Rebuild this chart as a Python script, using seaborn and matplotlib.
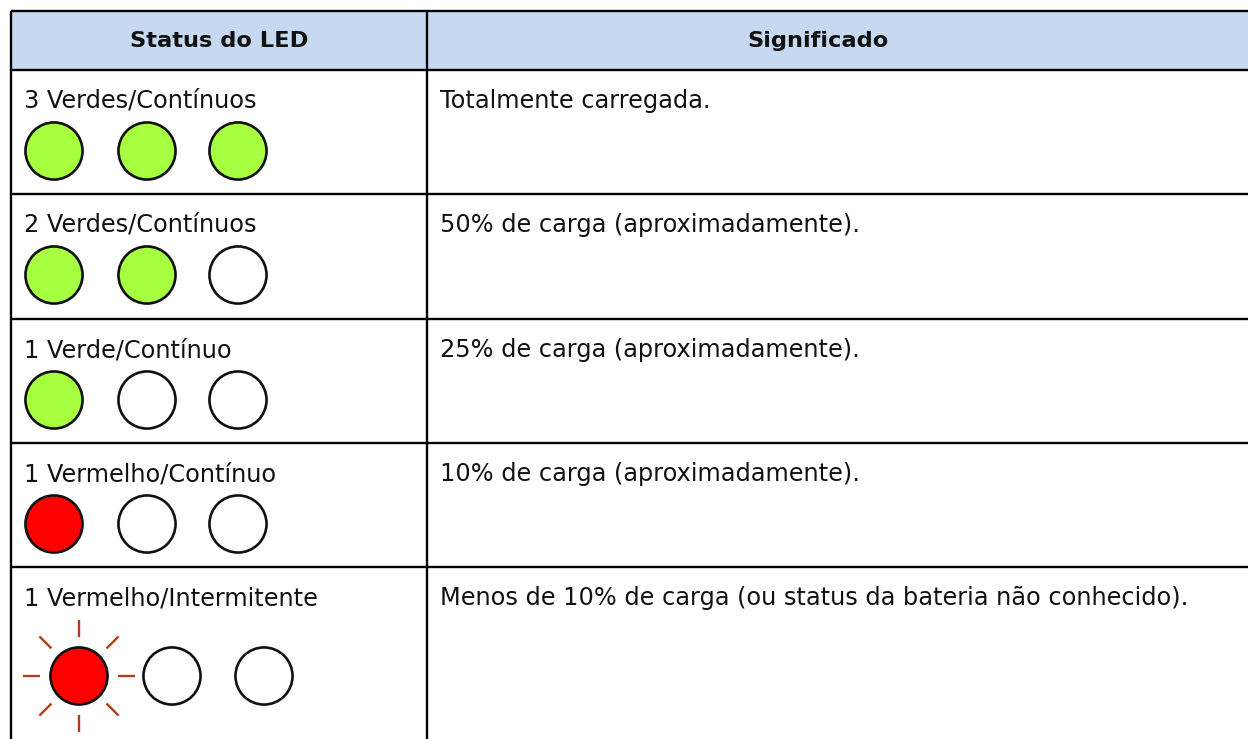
import numpy as np
import pandas as pd
import matplotlib
matplotlib.use("Agg")
import matplotlib.pyplot as plt
import seaborn as sns

# ---- data ----
headers = ["Status do LED", "Significado"]
status = ["3 Verdes/Contínuos", "2 Verdes/Contínuos", "1 Verde/Contínuo",
          "1 Vermelho/Contínuo", "1 Vermelho/Intermitente"]
meaning = ["Totalmente carregada.",
           "50% de carga (aproximadamente).",
           "25% de carga (aproximadamente).",
           "10% de carga (aproximadamente).",
           "Menos de 10% de carga (ou status da bateria não conhecido)."]
led_states = [["verde", "verde", "verde"],
              ["verde", "verde", "apagado"],
              ["verde", "apagado", "apagado"],
              ["vermelho", "apagado", "apagado"],
              ["vermelho", "apagado", "apagado"]]
blinking = [False, False, False, False, True]

# ---- styling / layout ----
sns.set_theme(style="white")
plt.rcParams['font.family'] = ['DejaVu Sans']
state_colors = {"verde": "#A6FF3F", "vermelho": "#FF0000", "apagado": "#FFFFFF"}
header_color = "#C6D9F0"
ray_color = "#B23C1A"

W, H = 1248, 739
left, mid, right = 11, 427, W + 5
top, header_bottom = 11, 70
row_tops = [70, 194, 319, 443, 567]
fs = 17.3
fs_head = 16.2

fig = plt.figure(figsize=(W / 100, H / 100), dpi=100)
ax = fig.add_axes([0, 0, 1, 1])
ax.set_xlim(0, W)
ax.set_ylim(H, 0)
ax.axis("off")

# header fill
ax.add_patch(plt.Rectangle((left, top), right - left, header_bottom - top,
                           facecolor=header_color, edgecolor="none", zorder=0))
# grid lines
for y in [top] + row_tops:
    ax.plot([left, right], [y, y], color="black", lw=1.7, zorder=1,
            solid_capstyle="butt")
for x in [left, mid]:
    ax.plot([x, x], [top, H + 5], color="black", lw=1.7, zorder=1,
            solid_capstyle="butt")

# header text
ax.text((left + mid) / 2, 41, headers[0], ha="center", va="center",
        fontsize=fs_head, fontweight="bold", color="#111111")
ax.text(818, 41, headers[1], ha="center", va="center",
        fontsize=fs_head, fontweight="bold", color="#111111")

# body text
for i, (s, m) in enumerate(zip(status, meaning)):
    yb = row_tops[i] + 38
    ax.text(24, yb, s, ha="left", va="baseline", fontsize=fs, color="#111111")
    ax.text(440, yb, m, ha="left", va="baseline", fontsize=fs, color="#111111")

# LED positions
recs = []
for i, states in enumerate(led_states):
    if blinking[i]:
        xs, yc = [79, 172, 264], row_tops[i] + 109
    else:
        xs, yc = [54, 147, 238], row_tops[i] + 81
    for j, st in enumerate(states):
        recs.append({"row": i, "led": j, "x": xs[j], "y": yc, "estado": st,
                     "pisca": blinking[i] and st != "apagado"})
df = pd.DataFrame(recs)

sns.scatterplot(data=df, x="x", y="y", hue="estado", palette=state_colors,
                s=1690, edgecolor="#111111", linewidth=1.9, legend=False,
                ax=ax, zorder=3)

# blinking rays
for _, r in df[df["pisca"]].iterrows():
    for ang in np.arange(0, 360, 45):
        a = np.deg2rad(ang)
        r0, r1 = 39, 56
        ax.plot([r["x"] + r0 * np.cos(a), r["x"] + r1 * np.cos(a)],
                [r["y"] + r0 * np.sin(a), r["y"] + r1 * np.sin(a)],
                color=ray_color, lw=1.7, zorder=2, solid_capstyle="butt")

ax.set_xlim(0, W)
ax.set_ylim(H, 0)
ax.axis("off")
fig.savefig("out.png", dpi=100)
